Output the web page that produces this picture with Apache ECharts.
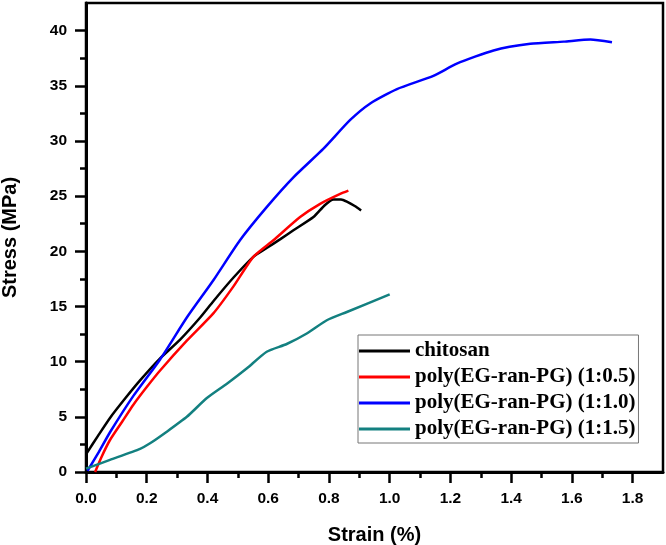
<!DOCTYPE html>
<html>
<head>
<meta charset="utf-8">
<script src="https://cdn.jsdelivr.net/npm/echarts@6/dist/echarts.min.js"></script>
<style>
html,body{margin:0;padding:0;background:#fff;}
#chart{width:666px;height:545px;}
</style>
</head>
<body>
<div id="chart"></div>
<script>
var seriesNames = ['chitosan', 'poly(EG-ran-PG) (1:0.5)', 'poly(EG-ran-PG) (1:1.0)', 'poly(EG-ran-PG) (1:1.5)'];

var chitosanStrain = [0, 0.04, 0.079, 0.13, 0.178, 0.244, 0.31, 0.376, 0.42, 0.485, 0.551, 0.595, 0.64, 0.683, 0.749, 0.787, 0.815, 0.84, 0.859, 0.885, 0.906];
var chitosanStress = [1.6, 3.3, 4.9, 6.7, 8.3, 10.3, 12.0, 14.0, 15.5, 17.6, 19.5, 20.3, 21.1, 21.9, 23.1, 24.2, 24.7, 24.7, 24.5, 24.1, 23.7];

var ratio05Strain = [0.03, 0.05, 0.079, 0.12, 0.156, 0.2, 0.244, 0.332, 0.42, 0.485, 0.551, 0.617, 0.705, 0.771, 0.837, 0.864];
var ratio05Stress = [0, 1.3, 2.9, 4.6, 6.1, 7.7, 9.2, 11.9, 14.4, 16.8, 19.5, 21.0, 23.1, 24.3, 25.2, 25.5];

var ratio10Strain = [0.005, 0.04, 0.079, 0.156, 0.244, 0.332, 0.42, 0.507, 0.595, 0.683, 0.782, 0.87, 0.936, 1.024, 1.144, 1.221, 1.342, 1.463, 1.573, 1.661, 1.732];
var ratio10Stress = [0.1, 1.7, 3.6, 6.9, 10.2, 14.0, 17.4, 21.0, 24.0, 26.7, 29.3, 31.9, 33.4, 34.7, 35.9, 37.0, 38.2, 38.8, 39.0, 39.2, 38.95];

var ratio15Strain = [0, 0.079, 0.178, 0.211, 0.266, 0.332, 0.398, 0.464, 0.53, 0.595, 0.661, 0.727, 0.793, 0.859, 1.0];
var ratio15Stress = [0.3, 1.1, 2.1, 2.6, 3.65, 5.0, 6.7, 8.0, 9.4, 10.9, 11.6, 12.55, 13.75, 14.5, 16.1];

var xMajorTicks = [0, 0.2, 0.4, 0.6, 0.8, 1.0, 1.2, 1.4, 1.6, 1.8];
var xMinorTicks = [0.1, 0.3, 0.5, 0.7, 0.9, 1.1, 1.3, 1.5, 1.7];
var yMajorTicks = [0, 5, 10, 15, 20, 25, 30, 35, 40];
var yMinorTicks = [2.5, 7.5, 12.5, 17.5, 22.5, 27.5, 32.5, 37.5];

var colors = ['#000000', '#ff0000', '#0000ff', '#138080'];

function pairs(xs, ys) { return xs.map(function (x, i) { return [x, ys[i]]; }); }
var allData = [
  pairs(chitosanStrain, chitosanStress),
  pairs(ratio05Strain, ratio05Stress),
  pairs(ratio10Strain, ratio10Stress),
  pairs(ratio15Strain, ratio15Stress)
];

var XMIN = 0, XMAX = 1.9, YMIN = 0, YMAX = 42.5;
var sans = 'Liberation Sans, Arial, sans-serif';

var chart = echarts.init(document.getElementById('chart'), null, {renderer: 'canvas'});
chart.setOption({
  animation: false,
  backgroundColor: '#fff',
  grid: {left: 86, right: 3, top: 3, bottom: 73, containLabel: false, outerBoundsMode: 'none',
    show: true, borderColor: '#000', borderWidth: 2.5, backgroundColor: 'transparent'},
  legend: {
    orient: 'vertical', left: 358, top: 335,
    data: seriesNames,
    icon: 'rect', itemWidth: 51, itemHeight: 3, itemGap: 4,
    padding: [5, 3, 3, 1],
    borderColor: '#777', borderWidth: 1, backgroundColor: '#fff',
    textStyle: {fontFamily: 'Liberation Serif, Times New Roman, serif', fontWeight: 'bold', fontSize: 21, color: '#000', lineHeight: 22}
  },
  xAxis: [{
    type: 'value', min: XMIN, max: XMAX, position: 'bottom',
    name: 'Strain (%)', nameLocation: 'middle', nameGap: 53,
    nameTextStyle: {fontFamily: sans, fontWeight: 'bold', fontSize: 20, color: '#000'},
    axisLine: {show: true, onZero: false, lineStyle: {color: '#000', width: 3}},
    axisTick: {show: true, inside: false, length: 11, lineStyle: {color: '#000', width: 2.5}, customValues: xMajorTicks},
    axisLabel: {show: true, margin: 19, fontFamily: sans, fontWeight: 'bold', fontSize: 15.5, color: '#000', customValues: xMajorTicks,
      formatter: function (v) { return v.toFixed(1); }},
    splitLine: {show: false}
  }, {
    type: 'value', min: XMIN, max: XMAX, position: 'bottom', offset: 0,
    axisLine: {show: false},
    axisTick: {show: true, inside: false, length: 6, lineStyle: {color: '#000', width: 2.5}, customValues: xMinorTicks},
    axisLabel: {show: false},
    splitLine: {show: false}
  }],
  yAxis: [{
    type: 'value', min: YMIN, max: YMAX, position: 'left',
    name: 'Stress (MPa)', nameLocation: 'middle', nameGap: 66,
    nameTextStyle: {fontFamily: sans, fontWeight: 'bold', fontSize: 20, color: '#000'},
    axisLine: {show: true, onZero: false, lineStyle: {color: '#000', width: 3}},
    axisTick: {show: true, inside: false, length: 11, lineStyle: {color: '#000', width: 2.5}, customValues: yMajorTicks},
    axisLabel: {show: true, margin: 19, fontFamily: sans, fontWeight: 'bold', fontSize: 15.5, color: '#000', customValues: yMajorTicks},
    splitLine: {show: false}
  }, {
    type: 'value', min: YMIN, max: YMAX, position: 'left', offset: 0,
    axisLine: {show: false},
    axisTick: {show: true, inside: false, length: 6, lineStyle: {color: '#000', width: 2.5}, customValues: yMinorTicks},
    axisLabel: {show: false},
    splitLine: {show: false}
  }],
  series: seriesNames.map(function (name, i) {
    return {
      name: name, type: 'line', xAxisIndex: 0, yAxisIndex: 0,
      data: allData[i], showSymbol: false, symbol: 'none', smooth: 0.2,
      color: colors[i],
      lineStyle: {color: colors[i], width: 2.5},
      itemStyle: {color: colors[i]},
      z: 3
    };
  })
});
</script>
</body>
</html>
